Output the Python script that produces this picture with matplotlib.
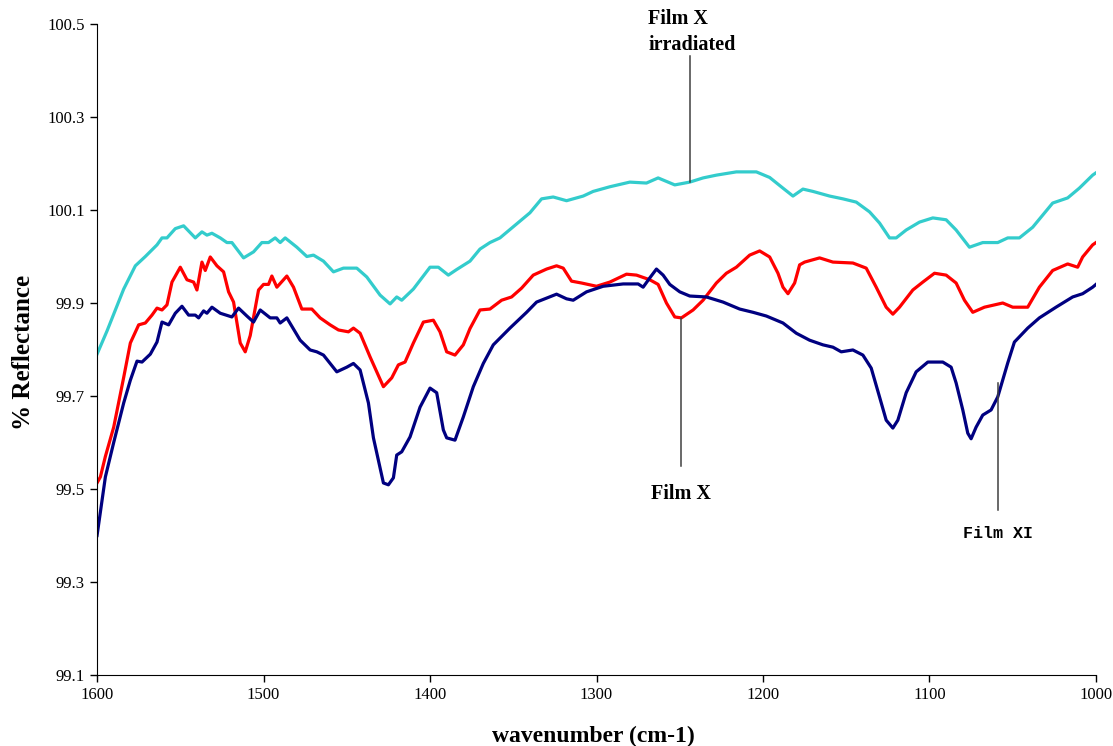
import matplotlib
matplotlib.use("Agg")
import matplotlib.pyplot as plt

# Film X irradiated (cyan)
wn_irr = [1600, 1594, 1584, 1577, 1571, 1564, 1561, 1558, 1553, 1548, 1541, 1537, 1534, 1531,
          1526, 1522, 1519, 1512, 1506, 1501, 1497, 1493, 1490, 1487, 1480, 1474, 1470, 1464,
          1458, 1452, 1444, 1438, 1430, 1424, 1420, 1417, 1410, 1400, 1395, 1389, 1384, 1376,
          1370, 1364, 1358, 1348, 1340, 1333, 1326, 1318, 1308, 1302, 1292, 1280, 1270, 1263,
          1253, 1244, 1236, 1228, 1216, 1204, 1196, 1188, 1182, 1176, 1170, 1160, 1152, 1144,
          1136, 1130, 1124, 1120, 1114, 1106, 1098, 1090, 1084, 1076, 1068, 1059, 1053, 1046,
          1038, 1026, 1017, 1010, 1002, 1000]
refl_irr = [99.79, 99.84, 99.93, 99.98, 100.00, 100.025, 100.04, 100.04, 100.06, 100.066, 100.04,
            100.053, 100.046, 100.05, 100.04, 100.03, 100.03, 99.997, 100.01, 100.03, 100.03,
            100.04, 100.03, 100.04, 100.02, 100.00, 100.003, 99.99, 99.967, 99.975, 99.975,
            99.956, 99.917, 99.898, 99.913, 99.906, 99.93, 99.977, 99.977, 99.96, 99.972, 99.99,
            100.016, 100.03, 100.04, 100.07, 100.094, 100.124, 100.128, 100.12, 100.13, 100.14,
            100.15, 100.16, 100.158, 100.169, 100.154, 100.16, 100.169, 100.175, 100.182,
            100.182, 100.17, 100.147, 100.13, 100.145, 100.14, 100.13, 100.124, 100.117, 100.096,
            100.072, 100.04, 100.04, 100.057, 100.074, 100.083, 100.079, 100.057, 100.02, 100.03,
            100.03, 100.04, 100.04, 100.063, 100.115, 100.126, 100.147, 100.175, 100.18]

# Film X (red)
wn_x = [1600, 1598, 1595, 1590, 1584, 1580, 1575, 1571, 1567, 1564, 1561, 1558, 1555, 1550,
        1546, 1542, 1540, 1537, 1535, 1532, 1528, 1524, 1521, 1518, 1514, 1511, 1508, 1503,
        1500, 1497, 1495, 1492, 1486, 1482, 1477, 1471, 1466, 1460, 1455, 1449, 1446, 1442,
        1436, 1428, 1423, 1419, 1415, 1410, 1404, 1398, 1394, 1390, 1385, 1380, 1376, 1370,
        1364, 1357, 1351, 1345, 1338, 1330, 1324, 1320, 1315, 1309, 1300, 1292, 1282, 1276,
        1268, 1263, 1258, 1253, 1249, 1242, 1236, 1228, 1222, 1216, 1208, 1202, 1196, 1191,
        1188, 1185, 1181, 1178, 1175, 1166, 1158, 1146, 1138, 1132, 1126, 1122, 1118, 1110,
        1104, 1097, 1090, 1084, 1079, 1074, 1067, 1056, 1050, 1041, 1034, 1026, 1017, 1011,
        1008, 1002, 1000]
refl_x = [99.513, 99.526, 99.57, 99.633, 99.74, 99.814, 99.853, 99.857, 99.874, 99.889, 99.885,
          99.896, 99.945, 99.977, 99.95, 99.945, 99.928, 99.988, 99.97, 99.999, 99.98, 99.967,
          99.924, 99.902, 99.814, 99.795, 99.83, 99.928, 99.94, 99.94, 99.958, 99.934, 99.958,
          99.934, 99.887, 99.887, 99.868, 99.853, 99.842, 99.838, 99.846, 99.835, 99.784,
          99.72, 99.739, 99.767, 99.773, 99.814, 99.859, 99.863, 99.838, 99.795, 99.788,
          99.81, 99.845, 99.885, 99.887, 99.906, 99.913, 99.932, 99.96, 99.973, 99.98, 99.975,
          99.947, 99.943, 99.936, 99.945, 99.962, 99.96, 99.95, 99.94, 99.9, 99.87, 99.868,
          99.885, 99.906, 99.943, 99.964, 99.977, 100.003, 100.012, 99.999, 99.964, 99.934,
          99.92, 99.943, 99.982, 99.988, 99.997, 99.988, 99.986, 99.975, 99.934, 99.891,
          99.876, 99.891, 99.928, 99.945, 99.964, 99.96, 99.943, 99.906, 99.88, 99.891, 99.9,
          99.891, 99.891, 99.934, 99.97, 99.984, 99.977, 99.999, 100.025, 100.03]

# Film XI (navy)
wn_xi = [1600, 1595, 1590, 1584, 1580, 1576, 1573, 1568, 1564, 1561, 1557, 1553, 1549, 1545,
         1541, 1539, 1536, 1534, 1531, 1526, 1519, 1515, 1510, 1506, 1502, 1496, 1492, 1490,
         1486, 1478, 1472, 1468, 1464, 1456, 1450, 1446, 1442, 1437, 1434, 1428, 1425, 1422,
         1420, 1417, 1412, 1406, 1400, 1396, 1392, 1390, 1385, 1380, 1374, 1368, 1362, 1352,
         1342, 1336, 1324, 1318, 1314, 1306, 1296, 1284, 1275, 1272, 1268, 1264, 1260, 1256,
         1250, 1244, 1234, 1224, 1214, 1206, 1198, 1188, 1180, 1172, 1164, 1158, 1153, 1146,
         1140, 1135, 1130, 1126, 1122, 1119, 1114, 1108, 1101, 1092, 1087, 1084, 1080, 1077,
         1075, 1072, 1068, 1063, 1059, 1053, 1049, 1041, 1034, 1024, 1014, 1008, 1002, 1000]
refl_xi = [99.40, 99.526, 99.6, 99.685, 99.734, 99.775, 99.773, 99.79, 99.816, 99.859, 99.853,
           99.878, 99.893, 99.874, 99.874, 99.868, 99.883, 99.878, 99.891, 99.878, 99.87,
           99.889, 99.872, 99.859, 99.885, 99.868, 99.868, 99.857, 99.868, 99.82, 99.799,
           99.795, 99.788, 99.752, 99.762, 99.77, 99.756, 99.685, 99.61, 99.513, 99.509,
           99.524, 99.573, 99.58, 99.612, 99.676, 99.717, 99.707, 99.627, 99.61, 99.605,
           99.655, 99.72, 99.77, 99.81, 99.846, 99.88, 99.902, 99.919, 99.909, 99.906, 99.924,
           99.936, 99.941, 99.941, 99.934, 99.954, 99.973, 99.96, 99.94, 99.924, 99.915,
           99.913, 99.902, 99.887, 99.88, 99.872, 99.857, 99.835, 99.82, 99.81, 99.805, 99.795,
           99.799, 99.788, 99.76, 99.698, 99.648, 99.631, 99.648, 99.707, 99.752, 99.773,
           99.773, 99.762, 99.728, 99.67, 99.62, 99.608, 99.633, 99.659, 99.67, 99.698, 99.771,
           99.816, 99.846, 99.868, 99.891, 99.913, 99.92, 99.934, 99.94]

y_ticks = [99.1, 99.3, 99.5, 99.7, 99.9, 100.1, 100.3, 100.5]
x_ticks = [1600, 1500, 1400, 1300, 1200, 1100, 1000]

serif = "Liberation Serif"

fig = plt.figure(figsize=(11.13, 7.46), dpi=100)
ax = fig.add_axes([0.0872, 0.0952, 0.8975, 0.8726])

ax.plot(wn_irr, refl_irr, color="#33CCCC", lw=2.3, solid_joinstyle="round")
ax.plot(wn_x, refl_x, color="#FF0000", lw=2.3, solid_joinstyle="round")
ax.plot(wn_xi, refl_xi, color="#000080", lw=2.3, solid_joinstyle="round")

ax.set_xlim(1600, 1000)
ax.set_ylim(99.1, 100.5)
ax.set_xticks(x_ticks)
ax.set_yticks(y_ticks)
ax.set_yticklabels([f"{v:.1f}" for v in y_ticks])
for lab in ax.get_xticklabels() + ax.get_yticklabels():
    lab.set_fontfamily(serif)
    lab.set_fontsize(12)
ax.tick_params(direction="out", length=5, width=1, pad=4)

for s in ["top", "right"]:
    ax.spines[s].set_visible(False)

ax.set_xlabel("wavenumber (cm-1)", fontfamily=serif, fontweight="bold", fontsize=17)
ax.set_ylabel("% Reflectance", fontfamily=serif, fontweight="bold", fontsize=18)
ax.xaxis.set_label_coords(0.4965, -0.078)
ax.yaxis.set_label_coords(-0.062, 0.495)

# labels with leader lines
lc = "#404040"
ax.plot([1244, 1244], [100.16, 100.431], color=lc, lw=1.1, clip_on=False)
ax.text(1269, 100.532, "Film X\nirradiated", fontfamily=serif, fontweight="bold",
        fontsize=14.5, ha="left", va="top", linespacing=1.4)

ax.plot([1249, 1249], [99.868, 99.55], color=lc, lw=1.1)
ax.text(1249, 99.49, "Film X", fontfamily=serif, fontweight="bold", fontsize=14.5,
        ha="center", va="center")

ax.plot([1059, 1059], [99.728, 99.455], color=lc, lw=1.1)
ax.text(1059, 99.405, "Film XI", fontfamily="Liberation Mono", fontweight="bold",
        fontsize=12, ha="center", va="center")

fig.savefig("out.png", dpi=100)
